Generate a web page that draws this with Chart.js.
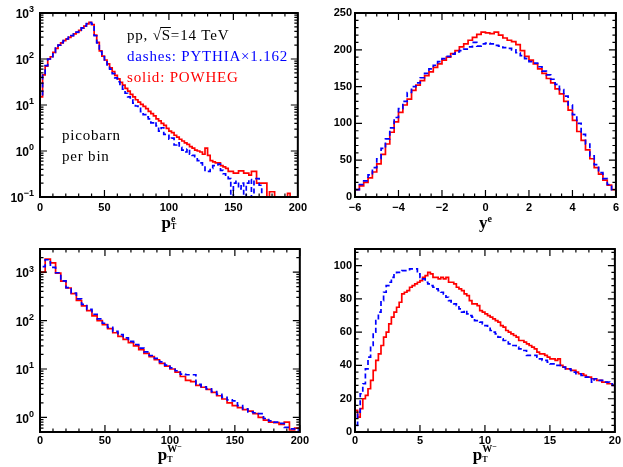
<!DOCTYPE html>
<html>
<head>
<meta charset="utf-8">
<title>W- decay distributions, POWHEG vs PYTHIA</title>
<script src="https://cdn.jsdelivr.net/npm/chart.js@4.4.1/dist/chart.umd.min.js"></script>
<style>
  body { margin: 0; background: #fff; }
  #wrap { position: relative; width: 623px; height: 467px; overflow: hidden; }
  canvas { position: absolute; }
</style>
</head>
<body>
<div id="wrap">
  <canvas id="ptE" width="311" height="240" style="left:0;top:0"></canvas>
  <canvas id="yE" width="312" height="240" style="left:311px;top:0"></canvas>
  <canvas id="ptW" width="311" height="231" style="left:0;top:236px"></canvas>
  <canvas id="ptWlow" width="312" height="231" style="left:311px;top:236px"></canvas>
</div>
<script>
// electron pT, 2 GeV bins starting at 0 (0 = empty bin)
const ptEStart = 0, ptEBin = 2;
const ptEPowheg = [
  15, 45, 70, 100, 112, 140, 170, 200, 225, 250, 270, 295, 320, 350, 380, 420, 470, 520, 580, 630,
  560, 330, 230, 150, 115, 95, 78, 64, 53, 44,
  37, 31, 27, 23, 20, 17, 15, 13, 11.5, 10.3,
  9.3, 8.3, 7.3, 6.5, 5.8, 5.0, 4.5, 4.0, 3.6, 3.1,
  2.7, 2.5, 2.2, 2.0, 1.8, 1.65, 1.5, 1.4, 1.25, 1.15,
  1.05, 1.0, 0.95, 0.85, 1.15, 0.8, 0.62, 0.58, 0.55, 0.55,
  0.48, 0.45, 0.42, 0.36, 0.36, 0.33, 0.33, 0.37, 0.37, 0.33,
  0.33, 0.3, 0.36, 0.36, 0.2, 0.2, 0.2, 0.2, 0, 0.13,
  0.13, 0, 0, 0, 0, 0, 0.12, 0, 0, 0
];
const ptEPythia = [
  16, 44, 72, 100, 112, 140, 172, 200, 228, 252, 272, 298, 322, 352, 385, 425, 475, 525, 585, 620,
  575, 320, 225, 145, 112, 92, 74, 60, 48, 39,
  32, 26, 22, 18, 15, 13, 11, 9.5, 8.5, 7.2,
  6.2, 5.5, 5.0, 4.1, 4.3, 3.5, 2.7, 3.2, 2.3, 2.2,
  1.8, 1.9, 1.35, 1.5, 1.2, 1.05, 0.95, 1.1, 0.85, 0.8,
  0.75, 0.62, 0.55, 0.5, 0.38, 0.36, 0.42, 0.48, 0.5, 0.52,
  0.38, 0.32, 0.3, 0.25, 0, 0.2, 0.22, 0.15, 0.2, 0,
  0.2, 0.24, 0, 0.25, 0.25, 0.18, 0, 0, 0, 0,
  0, 0, 0, 0, 0, 0, 0, 0, 0, 0
];
const ptETicks = [0, 50, 100, 150, 200];
const ptEDecades = [0.1, 1, 10, 100, 1000];
const ptEExponents = ['−1', '0', '1', '2', '3'];

// electron rapidity, 0.2 bins from -6
const yEStart = -6, yEBin = 0.2;
const yEPowheg = [
  10, 15, 20, 26, 34, 45, 58, 72, 88, 102,
  115, 125, 133, 145, 152, 158, 165, 170, 176, 181,
  186, 190, 195, 199, 204, 208, 213, 217, 221, 224,
  223, 222, 224, 220, 216, 213, 211, 207, 199, 191,
  186, 181, 174, 168, 161, 155, 147, 140, 130, 118,
  104, 89, 77, 64, 52, 40, 31, 23, 16, 10
];
const yEPythia = [
  10, 17, 22, 30, 40, 52, 66, 79, 94, 108,
  120, 130, 142, 150, 155, 162, 168, 174, 179, 184,
  188, 191, 194, 197, 199, 201, 204, 210, 205, 208,
  209, 208, 206, 205, 203, 202, 200, 196, 192, 188,
  184, 182, 177, 171, 166, 160, 153, 146, 137, 125,
  112, 100, 85, 72, 56, 44, 33, 25, 17, 10
];
const yETicks = [-6, -4, -2, 0, 2, 4, 6];
const yETickLabels = ['−6', '−4', '−2', '0', '2', '4', '6'];
const yEYTicks = [0, 50, 100, 150, 200, 250];

// W- pT, 4 GeV bins from 0
const ptWStart = 0, ptWBin = 4;
const ptWPowheg = [
  1000, 1850, 1550, 950, 650, 470, 360, 260, 200, 160,
  125, 100, 82, 68, 56, 47, 41, 35, 30, 25,
  21, 18, 15.5, 13, 11.5, 10, 8.6, 7.0, 5.8, 5.5,
  4.6, 4.2, 3.8, 3.3, 2.8, 2.4, 2.0, 1.75, 1.6, 1.45,
  1.35, 1.2, 1.0, 0.88, 0.8, 0.78, 0.72, 0.8, 0.55, 0.6
];
const ptWPythia = [
  1300, 1800, 1250, 970, 660, 480, 370, 280, 215, 170,
  135, 108, 88, 72, 60, 51, 44, 37, 32, 27,
  22.5, 19, 16.5, 14, 12, 10.5, 9.2, 7.8, 7.6, 7.6,
  4.8, 4.3, 3.9, 3.4, 3.0, 2.6, 2.3, 2.2, 1.75, 1.5,
  1.3, 1.25, 1.2, 0.95, 0.85, 0.8, 0.75, 0.62, 0.58, 0.55
];
const ptWTicks = [0, 50, 100, 150, 200];
const ptWDecades = [1, 10, 100, 1000];
const ptWExponents = ['0', '1', '2', '3'];

// W- pT at low pT, 0.2 GeV bins from 0
const ptWlowStart = 0, ptWlowBin = 0.2;
const ptWlowPowheg = [
  13, 9, 14, 20, 22, 26, 31, 37, 43, 47,
  52, 57, 60, 65, 69, 72, 75, 78, 83, 84,
  85, 87, 88, 89, 90, 91, 93, 94, 96, 95,
  93, 93, 92, 93, 92, 93, 90, 90, 89, 87,
  86, 85, 83, 82, 79, 77, 77, 76,
  73, 72, 71, 70, 69, 68, 67, 66, 64, 63,
  61, 60, 59, 58, 57, 55, 55, 54, 53, 52,
  51, 50, 48, 47, 47, 46, 45, 44, 44, 43,
  44, 40, 39, 38, 38, 37, 37, 36, 35, 35,
  34, 33, 33, 32, 32, 31, 31, 30, 30, 29,
  29, 28
];
const ptWlowPythia = [
  4, 12, 23, 29, 38, 45, 52, 60, 67, 72,
  79, 84, 88, 90, 93, 95, 96, 96, 97, 97,
  97, 98, 98, 98, 95, 93, 92, 90, 89, 88,
  87, 86, 85, 84, 83, 81, 79, 78, 77, 76,
  74, 72, 73, 71, 70, 69, 67, 67, 66,
  65, 64, 63, 61, 60, 59, 57, 56, 55, 54,
  53, 52, 52, 51, 50, 50, 49, 46, 46, 46,
  46, 45, 44, 43, 43, 42, 41, 41, 40, 40,
  39, 39, 38, 38, 37, 36, 35, 35, 34, 33,
  33, 33, 30, 32, 32, 31, 31, 30, 30, 29,
  28
];
const ptWlowTicks = [0, 5, 10, 15, 20];
const ptWlowYTicks = [0, 20, 40, 60, 80, 100];

const RED = '#ff0000', BLUE = '#0000ff';
const tickFont = { family: 'Liberation Sans', size: 11, weight: 'bold' };

// histogram outline: drop to the floor at both ends
function steps(start, width, vals, floor) {
  const pts = [{ x: start, y: floor }];
  vals.forEach((v, i) => pts.push({ x: start + i * width, y: v > 0 ? v : floor }));
  const end = start + vals.length * width;
  pts.push({ x: end, y: vals[vals.length - 1] > 0 ? vals[vals.length - 1] : floor });
  pts.push({ x: end, y: floor });
  return pts;
}

function every(from, to, step) {
  const out = [];
  for (let v = from; v <= to + 1e-9; v += step) out.push(+v.toFixed(4));
  return out;
}

function logMinor(lo, hi) {
  const out = [];
  for (let d = 1e-3; d < hi; d *= 10)
    for (let k = 2; k <= 9; k++) {
      const v = +(k * d).toPrecision(3);
      if (v >= lo && v <= hi) out.push(v);
    }
  return out;
}

// frame with inward ticks on all four sides, log labels, axis title, notes
const frame = {
  id: 'frame',
  afterDatasetsDraw(chart, args, o) {
    const { ctx, chartArea: a } = chart;
    const sx = chart.scales.x, sy = chart.scales.y;
    ctx.save();
    ctx.strokeStyle = '#000';
    ctx.lineWidth = 1.2;
    ctx.beginPath();
    [[o.xMinor, 3.5], [o.xMajor, 7]].forEach(([vals, len]) => vals.forEach(v => {
      const px = sx.getPixelForValue(v);
      ctx.moveTo(px, a.bottom); ctx.lineTo(px, a.bottom - len);
      ctx.moveTo(px, a.top); ctx.lineTo(px, a.top + len);
    }));
    [[o.yMinor, 3.5], [o.yMajor, 7]].forEach(([vals, len]) => vals.forEach(v => {
      const py = sy.getPixelForValue(v);
      ctx.moveTo(a.left, py); ctx.lineTo(a.left + len, py);
      ctx.moveTo(a.right, py); ctx.lineTo(a.right - len, py);
    }));
    ctx.stroke();
    ctx.lineWidth = 2;
    ctx.strokeRect(a.left, a.top, a.right - a.left, a.bottom - a.top);

    ctx.fillStyle = '#000';
    ctx.textAlign = 'left';
    if (o.logLabels) {
      o.logLabels[0].forEach((v, i) => {
        const exp = o.logLabels[1][i];
        const py = sy.getPixelForValue(v);
        ctx.font = 'bold 9px "Liberation Sans"';
        const we = ctx.measureText(exp).width;
        ctx.font = 'bold 12px "Liberation Sans"';
        const wb = ctx.measureText('10').width;
        const x0 = a.left - 6 - we - wb;
        ctx.textBaseline = 'middle';
        ctx.fillText('10', x0, py + 2);
        ctx.font = 'bold 9px "Liberation Sans"';
        ctx.fillText(exp, x0 + wb, py - 3);
      });
    }

    // axis title: main letter with stacked super/subscript
    const t = o.title;
    ctx.textBaseline = 'alphabetic';
    ctx.font = 'bold 17px "Liberation Serif"';
    const wm = ctx.measureText(t.main).width;
    ctx.font = 'bold 10px "Liberation Serif"';
    const ws = ctx.measureText(t.sup).width + (t.sup2 ? 5 : 0);
    ctx.font = 'bold 8px "Liberation Serif"';
    const wsub = t.sub ? ctx.measureText(t.sub).width : 0;
    const x0 = (a.left + a.right) / 2 - (wm + Math.max(ws, wsub)) / 2;
    ctx.font = 'bold 17px "Liberation Serif"';
    ctx.fillText(t.main, x0, t.base);
    ctx.font = 'bold 10px "Liberation Serif"';
    ctx.fillText(t.sup, x0 + wm, t.base - t.supUp);
    if (t.sup2) {
      const wW = ctx.measureText(t.sup).width;
      ctx.font = 'bold 8px "Liberation Serif"';
      ctx.fillText(t.sup2, x0 + wm + wW, t.base - t.supUp - 3);
    }
    if (t.sub) {
      ctx.font = 'bold 8px "Liberation Serif"';
      ctx.fillText(t.sub, x0 + wm, t.base + t.subDown);
    }

    (o.notes || []).forEach(n => {
      ctx.font = '15px "Liberation Serif"';
      ctx.letterSpacing = '0.8px';
      ctx.fillStyle = n.color;
      ctx.fillText(n.text, n.x, n.y);
      if (n.bar) {
        const w1 = ctx.measureText(n.bar[0]).width;
        const w2 = ctx.measureText(n.bar[0] + n.bar[1]).width;
        ctx.strokeStyle = n.color;
        ctx.lineWidth = 1;
        ctx.beginPath();
        ctx.moveTo(n.x + w1 - 1.5, n.y - 12.5);
        ctx.lineTo(n.x + w2, n.y - 12.5);
        ctx.stroke();
      }
    });
    ctx.restore();
  }
};

function panel(id, c) {
  const line = (vals, color, dash) => ({
    data: steps(c.start, c.width, vals, c.floor),
    borderColor: color, borderWidth: 1.7, borderDash: dash,
    stepped: true, pointRadius: 0, fill: false, tension: 0
  });
  const logY = c.yType === 'logarithmic';
  return new Chart(document.getElementById(id), {
    type: 'line',
    data: {
      datasets: [
        Object.assign(line(c.pythia, BLUE, [5, 3]), { label: 'PYTHIA×1.162' }),
        Object.assign(line(c.powheg, RED, []), { label: 'POWHEG' })
      ]
    },
    options: {
      responsive: false,
      animation: false,
      events: [],
      layout: { padding: { left: 0, top: 13, right: c.padRight, bottom: 0 } },
      plugins: { legend: { display: false }, tooltip: { enabled: false }, frame: c.frame },
      scales: {
        x: {
          type: 'linear', min: c.xMin, max: c.xMax,
          grid: { display: false, drawTicks: false }, border: { display: false },
          afterBuildTicks: s => { s.ticks = c.xTicks.map(v => ({ value: v })); },
          afterFit: s => { s.height = c.xHeight; },
          ticks: {
            padding: c.xPad, font: tickFont, color: '#000', maxRotation: 0, autoSkip: false,
            callback: (v, i) => (c.xLabels ? c.xLabels[i] : String(c.xTicks[i]))
          }
        },
        y: {
          type: c.yType, min: c.yMin, max: c.yMax,
          grid: { display: false, drawTicks: false }, border: { display: false },
          afterBuildTicks: s => { s.ticks = c.yTicks.map(v => ({ value: v })); },
          afterFit: s => { s.width = c.yWidth; },
          ticks: {
            display: !logY, padding: 3, font: tickFont, color: '#000', autoSkip: false,
            callback: (v, i) => String(c.yTicks[i])
          }
        }
      }
    },
    plugins: [frame]
  });
}

panel('ptE', {
  start: ptEStart, width: ptEBin, powheg: ptEPowheg, pythia: ptEPythia, floor: 0.1,
  xMin: 0, xMax: 200, xTicks: ptETicks, xHeight: 43, xPad: 4,
  yType: 'logarithmic', yMin: 0.1, yMax: 1000, yTicks: ptEDecades, yWidth: 40, padRight: 9,
  frame: {
    xMajor: ptETicks, xMinor: every(0, 200, 10),
    yMajor: ptEDecades, yMinor: logMinor(0.1, 1000),
    logLabels: [ptEDecades, ptEExponents],
    title: { main: 'p', sup: 'e', sub: 'T', base: 228, supUp: 6, subDown: 1 },
    notes: [
      { text: 'pp, √S=14 TeV', x: 127, y: 40, color: '#000', bar: ['pp, √', 'S'] },
      { text: 'dashes: PYTHIA×1.162', x: 127, y: 61, color: BLUE },
      { text: 'solid: POWHEG', x: 127, y: 82, color: RED },
      { text: 'picobarn', x: 62, y: 140, color: '#000' },
      { text: 'per bin', x: 62, y: 161, color: '#000' }
    ]
  }
});

panel('yE', {
  start: yEStart, width: yEBin, powheg: yEPowheg, pythia: yEPythia, floor: 0,
  xMin: -6, xMax: 6, xTicks: yETicks, xLabels: yETickLabels, xHeight: 43, xPad: 4,
  yType: 'linear', yMin: 0, yMax: 250, yTicks: yEYTicks, yWidth: 44, padRight: 6,
  frame: {
    xMajor: yETicks, xMinor: every(-6, 6, 0.5),
    yMajor: yEYTicks, yMinor: every(0, 250, 10),
    title: { main: 'y', sup: 'e', base: 228, supUp: 6 }
  }
});

panel('ptW', {
  start: ptWStart, width: ptWBin, powheg: ptWPowheg, pythia: ptWPythia, floor: 0.5,
  xMin: 0, xMax: 200, xTicks: ptWTicks, xHeight: 35, xPad: 2,
  yType: 'logarithmic', yMin: 0.5, yMax: 3000, yTicks: ptWDecades, yWidth: 40, padRight: 9,
  frame: {
    xMajor: ptWTicks, xMinor: every(0, 200, 10),
    yMajor: ptWDecades, yMinor: logMinor(0.5, 3000),
    logLabels: [ptWDecades, ptWExponents],
    title: { main: 'p', sup: 'W', sup2: '−', sub: 'T', base: 224, supUp: 8, subDown: 2 }
  }
});

panel('ptWlow', {
  start: ptWlowStart, width: ptWlowBin, powheg: ptWlowPowheg, pythia: ptWlowPythia, floor: 0,
  xMin: 0, xMax: 20, xTicks: ptWlowTicks, xHeight: 35, xPad: 2,
  yType: 'linear', yMin: 0, yMax: 110, yTicks: ptWlowYTicks, yWidth: 44, padRight: 6,
  frame: {
    xMajor: ptWlowTicks, xMinor: every(0, 20, 1),
    yMajor: ptWlowYTicks, yMinor: every(0, 108, 4),
    title: { main: 'p', sup: 'W', sup2: '−', sub: 'T', base: 224, supUp: 8, subDown: 2 }
  }
});
</script>
</body>
</html>
